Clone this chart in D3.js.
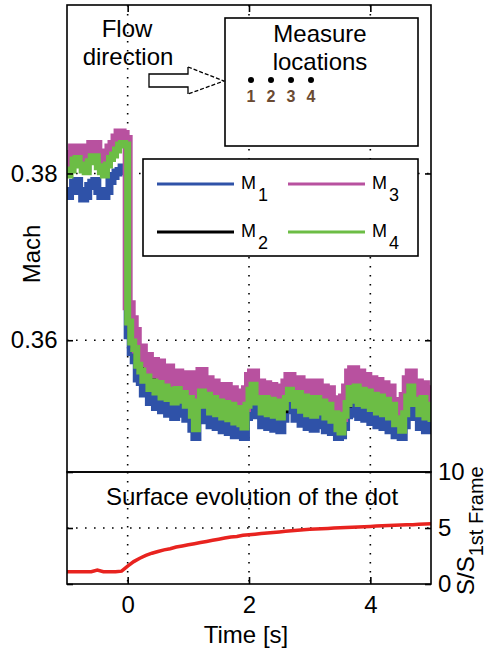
<!DOCTYPE html>
<html><head><meta charset="utf-8">
<script src="https://cdn.jsdelivr.net/npm/d3@7"></script>
<style>body{margin:0;background:#fff;} svg{display:block;font-family:Arial,"Liberation Sans",sans-serif;}</style>
</head><body><svg id="c" width="487" height="651"></svg>
<script>
// ---------- data ----------
const machStart = -1, machStep = 0.05;   // sample grid of the Mach series [s]
const M1 = [0.3773,0.3779,0.3789,0.3791,0.3779,0.3770,0.3773,0.3785,0.3789,0.3791,0.3779,0.3773,0.3773,0.3779,0.3791,0.3797,0.3801,0.3803,0.3807,0.3803,
0.3606,0.3586,0.3576,0.3554,0.3550,0.3536,0.3542,0.3526,0.3536,0.3520,0.3532,0.3516,0.3530,0.3512,0.3526,0.3508,0.3528,0.3512,0.3522,0.3506,
0.3516,0.3494,0.3484,0.3512,0.3522,0.3504,0.3520,0.3498,0.3516,0.3496,0.3512,0.3492,0.3510,0.3490,0.3508,0.3486,0.3504,0.3486,0.3484,0.3508,
0.3526,0.3530,0.3510,0.3516,0.3498,0.3516,0.3496,0.3514,0.3494,0.3512,0.3492,0.3506,0.3516,0.3526,0.3520,0.3506,0.3522,0.3500,0.3518,0.3496,
0.3516,0.3494,0.3516,0.3498,0.3512,0.3492,0.3508,0.3490,0.3496,0.3484,0.3486,0.3496,0.3510,0.3528,0.3512,0.3530,0.3508,0.3526,0.3506,0.3524,
0.3502,0.3520,0.3498,0.3518,0.3496,0.3514,0.3492,0.3508,0.3486,0.3492,0.3484,0.3498,0.3518,0.3530,0.3508,0.3514,0.3496,0.3516,0.3492,0.3508,0.3488];
const M2 = [0.3801,0.3807,0.3819,0.3821,0.3813,0.3807,0.3805,0.3817,0.3823,0.3823,0.3811,0.3805,0.3801,0.3813,0.3821,0.3825,0.3831,0.3837,0.3839,0.3837,
0.3628,0.3607,0.3594,0.3579,0.3567,0.3563,0.3554,0.3557,0.3549,0.3552,0.3541,0.3546,0.3537,0.3547,0.3540,0.3536,0.3543,0.3539,0.3532,0.3537,
0.3529,0.3522,0.3500,0.3528,0.3539,0.3531,0.3536,0.3524,0.3531,0.3521,0.3528,0.3518,0.3526,0.3517,0.3524,0.3513,0.3520,0.3510,0.3504,0.3526,
0.3541,0.3551,0.3535,0.3530,0.3534,0.3524,0.3531,0.3523,0.3528,0.3520,0.3526,0.3516,0.3530,0.3541,0.3545,0.3532,0.3537,0.3526,0.3534,0.3523,
0.3531,0.3521,0.3532,0.3525,0.3520,0.3529,0.3518,0.3522,0.3511,0.3503,0.3496,0.3512,0.3523,0.3543,0.3538,0.3545,0.3535,0.3541,0.3532,0.3539,
0.3529,0.3536,0.3525,0.3533,0.3523,0.3530,0.3519,0.3524,0.3511,0.3506,0.3500,0.3514,0.3533,0.3546,0.3536,0.3529,0.3524,0.3532,0.3519,0.3524,0.3512];
const M3 = [0.3810,0.3822,0.3830,0.3830,0.3822,0.3818,0.3820,0.3830,0.3834,0.3834,0.3822,0.3814,0.3816,0.3824,0.3830,0.3834,0.3842,0.3848,0.3846,0.3840,
0.3642,0.3624,0.3610,0.3590,0.3590,0.3574,0.3580,0.3564,0.3574,0.3560,0.3572,0.3548,0.3556,0.3566,0.3544,0.3550,0.3560,0.3540,0.3552,0.3546,
0.3558,0.3532,0.3524,0.3548,0.3562,0.3540,0.3552,0.3530,0.3548,0.3528,0.3542,0.3524,0.3544,0.3522,0.3540,0.3518,0.3536,0.3516,0.3520,0.3540,
0.3556,0.3560,0.3540,0.3548,0.3530,0.3546,0.3528,0.3544,0.3526,0.3542,0.3524,0.3536,0.3548,0.3556,0.3550,0.3536,0.3552,0.3532,0.3548,0.3530,
0.3546,0.3526,0.3548,0.3530,0.3542,0.3524,0.3540,0.3520,0.3528,0.3512,0.3508,0.3530,0.3542,0.3560,0.3564,0.3550,0.3560,0.3540,0.3556,0.3538,
0.3552,0.3532,0.3550,0.3530,0.3546,0.3526,0.3542,0.3520,0.3526,0.3514,0.3516,0.3532,0.3552,0.3560,0.3542,0.3548,0.3530,0.3546,0.3526,0.3540,0.3528];
const M4 = [0.3798,0.3804,0.3816,0.3818,0.3810,0.3804,0.3802,0.3814,0.3820,0.3820,0.3808,0.3802,0.3798,0.3810,0.3818,0.3822,0.3828,0.3834,0.3836,0.3834,
0.3622,0.3598,0.3590,0.3570,0.3563,0.3552,0.3556,0.3542,0.3550,0.3538,0.3548,0.3532,0.3544,0.3530,0.3540,0.3526,0.3541,0.3528,0.3536,0.3522,
0.3530,0.3510,0.3494,0.3526,0.3538,0.3522,0.3534,0.3514,0.3530,0.3512,0.3526,0.3508,0.3524,0.3506,0.3522,0.3502,0.3518,0.3500,0.3496,0.3522,
0.3540,0.3546,0.3526,0.3530,0.3514,0.3530,0.3512,0.3528,0.3510,0.3526,0.3508,0.3520,0.3530,0.3540,0.3536,0.3522,0.3536,0.3516,0.3532,0.3512,
0.3530,0.3510,0.3530,0.3514,0.3526,0.3508,0.3522,0.3504,0.3512,0.3494,0.3490,0.3510,0.3524,0.3542,0.3528,0.3544,0.3524,0.3540,0.3522,0.3538,
0.3518,0.3534,0.3514,0.3532,0.3512,0.3528,0.3508,0.3522,0.3500,0.3506,0.3492,0.3512,0.3532,0.3544,0.3524,0.3528,0.3512,0.3530,0.3508,0.3522,0.3502];

const surfStart = -1, surfStep = 0.1;   // sample grid of the surface series [s]
const surface = [1.1,1.1,1.1,1.1,1.1,1.25,1.1,1.1,1.1,1.15,
1.6,2.0,2.3,2.55,2.75,2.9,3.05,3.15,3.3,3.4,
3.5,3.6,3.7,3.8,3.9,4.0,4.1,4.2,4.25,4.35,
4.4,4.45,4.5,4.55,4.6,4.65,4.7,4.75,4.8,4.85,
4.88,4.9,4.93,4.96,5.0,5.02,5.05,5.07,5.1,5.12,
5.14,5.17,5.2,5.22,5.24,5.26,5.28,5.3,5.33,5.35,5.38];

const timeTicks = [0, 2, 4];
const machTicks = [0.36, 0.38];
const surfTicks = [0, 5, 10];
const seriesNames = ["1", "2", "3", "4"];
const seriesColors = ["#2f52a8", "#000000", "#b8519f", "#6cbd45"];
const seriesWidths = [8, 6, 10, 7];
const locationLabels = ["1", "2", "3", "4"];

// ---------- layout ----------
const svg = d3.select("#c");
const L = 67, R = 431, T1 = 5, B1 = 472, T2 = 472, B2 = 584;
const FS = 24;
const x = d3.scaleLinear().domain([-1, 5]).range([L, R]);
const y1 = d3.scaleLinear().domain([0.3442, 0.4002]).range([B1, T1]);
const y2 = d3.scaleLinear().domain([0, 10]).range([B2, T2]);

const defs = svg.append("defs");
defs.append("clipPath").attr("id", "clip1").append("rect").attr("x", L).attr("y", T1).attr("width", R - L).attr("height", B1 - T1);
defs.append("clipPath").attr("id", "clip2").append("rect").attr("x", L).attr("y", T2).attr("width", R - L).attr("height", B2 - T2);

// grid
const grid = svg.append("g").attr("stroke", "#000").attr("stroke-width", 1.6).attr("stroke-dasharray", "1.6,7.4");
timeTicks.forEach(t => {
  grid.append("line").attr("x1", x(t)).attr("x2", x(t)).attr("y1", T1).attr("y2", B1);
  grid.append("line").attr("x1", x(t)).attr("x2", x(t)).attr("y1", T2).attr("y2", B2);
});
machTicks.forEach(v => grid.append("line").attr("x1", L).attr("x2", R).attr("y1", y1(v)).attr("y2", y1(v)));
grid.append("line").attr("x1", L).attr("x2", R).attr("y1", y2(5)).attr("y2", y2(5));

// Mach series
const series = [M1, M2, M3, M4];
const drawOrder = [0, 1, 2, 3];
const line1 = d3.line().x((d, i) => x(machStart + i * machStep)).y(d => y1(d)).curve(d3.curveStepAfter);
const gData = svg.append("g").attr("clip-path", "url(#clip1)");
drawOrder.forEach(k => {
  gData.append("path").datum(series[k]).attr("d", line1)
    .attr("fill", "none").attr("stroke", seriesColors[k]).attr("stroke-width", seriesWidths[k])
    .attr("stroke-linejoin", "miter").attr("stroke-linecap", "butt");
});

// surface series
const line2 = d3.line().x((d, i) => x(surfStart + i * surfStep)).y(d => y2(d));
svg.append("g").attr("clip-path", "url(#clip2)").append("path").datum(surface).attr("d", line2)
  .attr("fill", "none").attr("stroke", "#e8231f").attr("stroke-width", 3.5);

// axes frames
svg.append("rect").attr("x", L).attr("y", T1).attr("width", R - L).attr("height", B1 - T1).attr("fill", "none").attr("stroke", "#000").attr("stroke-width", 1.6);
svg.append("rect").attr("x", L).attr("y", T2).attr("width", R - L).attr("height", B2 - T2).attr("fill", "none").attr("stroke", "#000").attr("stroke-width", 1.6);

function styleAxis(g) {
  g.select(".domain").remove();
  g.selectAll("line").attr("stroke-width", 1.6);
  g.selectAll("text").attr("font-size", FS).attr("font-family", "Arial, 'Liberation Sans', sans-serif").attr("fill", "#000");
}
// top panel axes
svg.append("g").attr("transform", `translate(${L},0)`)
  .call(d3.axisLeft(y1).tickValues(machTicks).tickSize(-6).tickPadding(9.5).tickFormat(d3.format(".2f"))).call(styleAxis);
svg.append("g").attr("transform", `translate(${R},0)`)
  .call(d3.axisRight(y1).tickValues(machTicks).tickSize(-6).tickFormat("")).call(styleAxis);
svg.append("g").attr("transform", `translate(0,${T1})`)
  .call(d3.axisTop(x).tickValues(timeTicks).tickSize(-7).tickFormat("")).call(styleAxis);
// bottom panel axes
svg.append("g").attr("transform", `translate(0,${B2})`)
  .call(d3.axisBottom(x).tickValues(timeTicks).tickSize(-7).tickPadding(12).tickFormat(d3.format("d"))).call(styleAxis);
svg.append("g").attr("transform", `translate(${R},0)`)
  .call(d3.axisRight(y2).tickValues(surfTicks).tickSize(-6).tickPadding(7).tickFormat(d3.format("d"))).call(styleAxis);
svg.append("g").attr("transform", `translate(${L},0)`)
  .call(d3.axisLeft(y2).tickValues(surfTicks).tickSize(-6).tickFormat("")).call(styleAxis);

// axis labels
svg.append("text").attr("x", 246).attr("y", 643).attr("text-anchor", "middle").attr("font-size", FS).text("Time [s]");
svg.append("text").attr("transform", "translate(40,254) rotate(-90)").attr("text-anchor", "middle").attr("font-size", FS).text("Mach");
const sl = svg.append("text").attr("transform", "translate(474,595) rotate(-90)").attr("font-size", FS);
sl.append("tspan").text("S/S");
sl.append("tspan").attr("dy", 9).attr("font-size", 20).text("1st Frame");

// bottom panel title
svg.append("text").attr("x", 252).attr("y", 505).attr("text-anchor", "middle").attr("font-size", FS).text("Surface evolution of the dot");

// legend
const lg = svg.append("g");
lg.append("rect").attr("x", 143).attr("y", 159).attr("width", 275).attr("height", 97).attr("fill", "#fff").attr("stroke", "#000").attr("stroke-width", 1.6);
const legPos = [[157, 184], [157, 232], [288, 184], [288, 232]];
series.forEach((s, k) => {
  const [lx, ly] = legPos[k];
  lg.append("line").attr("x1", lx).attr("x2", lx + 77).attr("y1", ly).attr("y2", ly).attr("stroke", seriesColors[k]).attr("stroke-width", 3);
  const t = lg.append("text").attr("x", lx + 84).attr("y", ly + 5).attr("font-size", 18);
  t.append("tspan").text("M");
  t.append("tspan").attr("dx", 2).attr("dy", 12).attr("font-size", 18).text(seriesNames[k]);
});

// inset: measure locations
const ins = svg.append("g");
ins.append("rect").attr("x", 225).attr("y", 18).attr("width", 193).attr("height", 128).attr("fill", "#fff").attr("stroke", "#000").attr("stroke-width", 1.6);
ins.append("text").attr("x", 320).attr("y", 42).attr("text-anchor", "middle").attr("font-size", FS).text("Measure");
ins.append("text").attr("x", 320).attr("y", 70).attr("text-anchor", "middle").attr("font-size", FS).text("locations");
locationLabels.forEach((lab, i) => {
  const cx = 251 + i * 20;
  ins.append("circle").attr("cx", cx).attr("cy", 80).attr("r", 3).attr("fill", "#000");
  ins.append("text").attr("x", cx).attr("y", 102).attr("text-anchor", "middle").attr("font-size", 16).attr("font-weight", "bold").attr("fill", "#6a4a32").text(lab);
});

// flow direction annotation
svg.append("text").attr("x", 127).attr("y", 37).attr("text-anchor", "middle").attr("font-size", FS).text("Flow");
svg.append("text").attr("x", 128).attr("y", 65).attr("text-anchor", "middle").attr("font-size", FS).text("direction");
const ar = svg.append("g").attr("fill", "none").attr("stroke", "#000").attr("stroke-width", 1.3);
ar.append("polygon").attr("points", "149,74 188,74 188,67 224,81 188,94 188,87 149,87").attr("fill", "#fff").attr("stroke", "none");
ar.append("polyline").attr("points", "188,67 188,74 149,74 149,87 188,87 188,94");
ar.append("polyline").attr("points", "188,67 224,81 188,94").attr("stroke-dasharray", "4,2");
</script></body></html>
